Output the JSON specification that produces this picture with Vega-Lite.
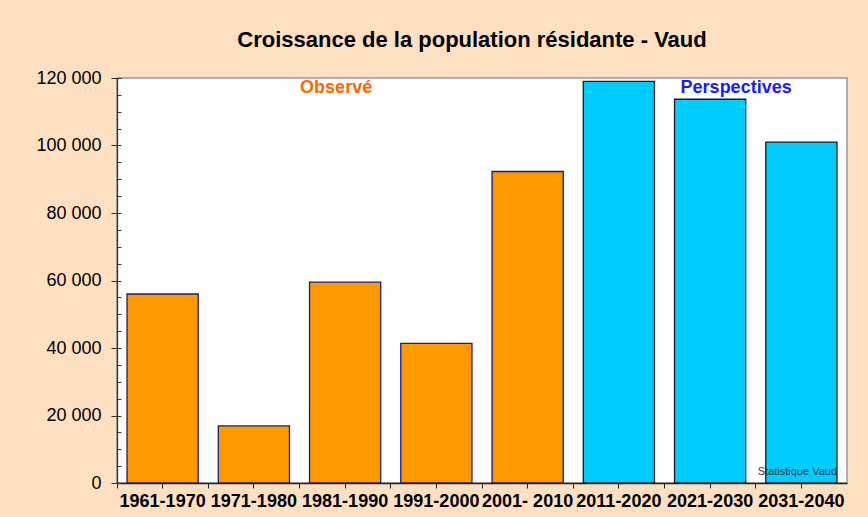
{
  "$schema": "https://vega.github.io/schema/vega-lite/v6.json",
  "width": 730,
  "height": 405,
  "autosize": {"type": "none"},
  "padding": {"left": 117, "top": 78, "right": 21, "bottom": 34},
  "background": "#FDDFC2",
  "title": {
    "text": "Croissance de la population résidante - Vaud",
    "font": "Liberation Sans",
    "fontSize": 22,
    "fontWeight": "bold",
    "color": "#000000",
    "anchor": "middle",
    "offset": 17,
    "dx": -10
  },
  "config": {
    "view": {"stroke": "#999999", "strokeWidth": 1.5, "fill": "#ffffff"},
    "axis": {"grid": false, "title": null}
  },
  "datasets": {
    "bars": [
      {"periode": "1961-1970", "valeur": 56000, "type": "Observé"},
      {"periode": "1971-1980", "valeur": 16900, "type": "Observé"},
      {"periode": "1981-1990", "valeur": 59500, "type": "Observé"},
      {"periode": "1991-2000", "valeur": 41400, "type": "Observé"},
      {"periode": "2001- 2010", "valeur": 92300, "type": "Observé"},
      {"periode": "2011-2020", "valeur": 119000, "type": "Perspectives"},
      {"periode": "2021-2030", "valeur": 113700, "type": "Perspectives"},
      {"periode": "2031-2040", "valeur": 101000, "type": "Perspectives"}
    ],
    "obs": [
      {"periode": "1981-1990", "valeur": 117000, "texte": "Observé"}
    ],
    "persp": [
      {"periode": "2021-2030", "valeur": 117000, "texte": "Perspectives"}
    ],
    "source": [
      {"periode": "2031-2040", "valeur": 3300, "texte": "Statistique Vaud"}
    ]
  },
  "layer": [
    {
      "data": {"name": "bars"},
      "mark": {"type": "bar", "width": {"band": 0.78}, "strokeWidth": 1.3},
      "encoding": {
        "x": {
          "field": "periode",
          "type": "nominal",
          "sort": null,
          "scale": {"paddingInner": 0, "paddingOuter": 0},
          "axis": {
            "orient": "bottom",
            "labelAngle": 0,
            "labelFont": "Liberation Sans",
            "labelFontSize": 18,
            "labelFontWeight": "bold",
            "labelColor": "#000000",
            "labelPadding": 4,
            "tickSize": 5,
            "tickColor": "#222222",
            "domainColor": "#222222",
            "domainWidth": 1.5
          }
        },
        "y": {
          "field": "valeur",
          "type": "quantitative",
          "scale": {"domain": [0, 120000], "nice": false},
          "axis": {
            "orient": "left",
            "values": [0, 20000, 40000, 60000, 80000, 100000, 120000],
            "labelExpr": "replace(format(datum.value, ','), ',', ' ')",
            "labelFont": "Liberation Sans",
            "labelFontSize": 18,
            "labelColor": "#000000",
            "labelPadding": 10,
            "tickSize": 6,
            "tickColor": "#333333",
            "domainColor": "#333333",
            "domainWidth": 1.3
          }
        },
        "color": {
          "field": "type",
          "type": "nominal",
          "scale": {"domain": ["Observé", "Perspectives"], "range": ["#FF9900", "#00CCFF"]},
          "legend": null
        },
        "stroke": {
          "field": "type",
          "type": "nominal",
          "scale": {"domain": ["Observé", "Perspectives"], "range": ["#1a1a80", "#1a1a1a"]},
          "legend": null
        }
      }
    },
    {
      "data": {"name": "obs"},
      "mark": {"type": "text", "font": "Liberation Sans", "fontSize": 18, "fontWeight": "bold", "baseline": "middle", "color": "#FF6600", "dx": -9},
      "encoding": {
        "x": {
          "field": "periode",
          "type": "nominal",
          "sort": null,
          "axis": {
            "orient": "bottom",
            "bandPosition": 0,
            "labels": false,
            "domain": false,
            "tickSize": 5,
            "tickColor": "#222222"
          }
        },
        "y": {
          "field": "valeur",
          "type": "quantitative",
          "axis": {
            "orient": "left",
            "values": [0, 5000, 10000, 15000, 20000, 25000, 30000, 35000, 40000, 45000, 50000, 55000, 60000, 65000, 70000, 75000, 80000, 85000, 90000, 95000, 100000, 105000, 110000, 115000, 120000],
            "labels": false,
            "domain": false,
            "tickSize": -4,
            "tickColor": "#333333"
          }
        },
        "text": {"field": "texte"}
      }
    },
    {
      "data": {"name": "persp"},
      "mark": {"type": "text", "font": "Liberation Sans", "fontSize": 18, "fontWeight": "bold", "baseline": "middle", "color": "#1a1aff", "dx": 26},
      "encoding": {
        "x": {"field": "periode", "type": "nominal", "sort": null, "axis": null},
        "y": {"field": "valeur", "type": "quantitative", "axis": null},
        "text": {"field": "texte"}
      }
    },
    {
      "data": {"name": "source"},
      "mark": {"type": "text", "font": "Liberation Sans", "fontSize": 11, "color": "#333333", "baseline": "middle", "dx": -4},
      "encoding": {
        "x": {"field": "periode", "type": "nominal", "sort": null, "axis": null},
        "y": {"field": "valeur", "type": "quantitative", "axis": null},
        "text": {"field": "texte"}
      }
    }
  ],
  "resolve": {"axis": {"x": "independent", "y": "independent"}}
}
